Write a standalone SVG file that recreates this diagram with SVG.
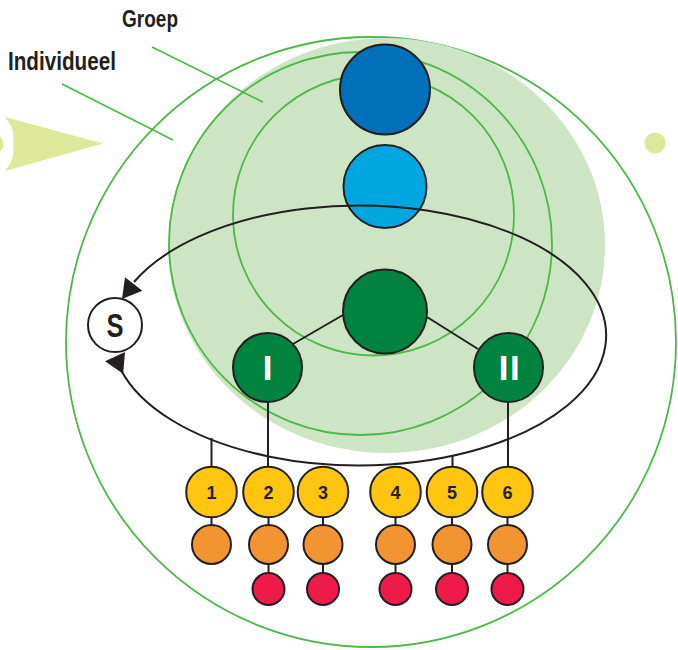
<svg xmlns="http://www.w3.org/2000/svg" xmlns:xlink="http://www.w3.org/1999/xlink" width="678" height="650" viewBox="0 0 678 650">
<style>
.ring{fill:none;stroke:#4cb848;stroke-width:1.8}
.node{stroke:#231f20;stroke-width:2}
.ln{fill:none;stroke:#231f20;stroke-width:2}
.gl{fill:none;stroke:#4cb848;stroke-width:1.6}
.lime{fill:#dde89b}
.yel{fill:#ffc50f}
.ora{fill:#f39433}
.red{fill:#ed1a4a}
.lbl{font-family:"Liberation Sans",Arial,sans-serif;font-weight:bold;fill:#231f20}
.num{font-family:"Liberation Sans",Arial,sans-serif;font-weight:bold;font-size:18px;fill:#231f20;text-anchor:middle}
.wt{font-family:"Liberation Sans",Arial,sans-serif;font-weight:bold;font-size:35px;fill:#fff;text-anchor:middle}
</style>
<defs>
<path id="ah" d="M0,0 L-19,-11 L-19,11 Z" fill="#231f20"/>
</defs>
<g id="background">
<circle cx="371" cy="342" r="305" fill="#fff" stroke="#4cb848" stroke-width="1.8"/>
<ellipse cx="386.5" cy="245.5" rx="218.5" ry="207.5" fill="#cde5c4"/>
<circle class="ring" cx="360.5" cy="243.5" r="191.5"/>
<circle class="ring" cx="373.5" cy="215" r="140.5"/>
<circle class="lime" cx="-6" cy="144" r="9.5"/>
<path class="lime" d="M5,117 L103,143.5 L5,171 Q14,160 13.5,150 L13.5,137 Q14,128 5,117 Z"/>
<circle class="lime" cx="655" cy="143" r="10.5"/>
</g>
<g id="labels">
<line class="gl" x1="152" y1="47" x2="263" y2="102"/>
<line class="gl" x1="62" y1="84" x2="173" y2="140"/>
<text class="lbl" x="122" y="27" font-size="23" textLength="56" lengthAdjust="spacingAndGlyphs">Groep</text>
<text class="lbl" x="8" y="70" font-size="25.5" textLength="108" lengthAdjust="spacingAndGlyphs">Individueel</text>
</g>
<g id="node-darkblue"><circle class="node" cx="385" cy="89.5" r="45" fill="#0070b8"/></g>
<g id="node-lightblue"><circle class="node" cx="385" cy="186.5" r="41.5" fill="#00a6e0"/></g>
<g id="node-center"><circle class="node" cx="385" cy="311.5" r="42" fill="#00833e"/></g>
<g id="node-I"><circle class="node" cx="267.5" cy="367.5" r="34.5" fill="#00833e"/><text class="wt" x="267.5" y="380">I</text></g>
<g id="node-II"><circle class="node" cx="508.5" cy="367.5" r="34.5" fill="#00833e"/><text class="wt" x="510" y="380" letter-spacing="1.5">II</text></g>
<g id="node-S"><circle class="node" cx="115" cy="325" r="27" fill="#fff"/><text class="lbl" x="115" y="337" font-size="33" text-anchor="middle" textLength="17" lengthAdjust="spacingAndGlyphs">S</text></g>
<g id="connectors">
<path class="ln" d="M121,370 A247,130 0 1 0 134,282"/>
<use xlink:href="#ah" transform="translate(122,299) rotate(128)"/>
<use xlink:href="#ah" transform="translate(125,352) rotate(-55)"/>
<line class="ln" x1="343" y1="315" x2="293" y2="344"/>
<line class="ln" x1="427" y1="317" x2="478" y2="349"/>
<line class="ln" x1="211.5" y1="438" x2="211.5" y2="467"/>
<line class="ln" x1="268" y1="402" x2="268" y2="467"/>
<line class="ln" x1="452.5" y1="455" x2="452.5" y2="467"/>
<line class="ln" x1="508" y1="402" x2="508" y2="467"/>
<line class="ln" x1="211.5" y1="517" x2="211.5" y2="525"/>
<line class="ln" x1="268.5" y1="517" x2="268.5" y2="525"/>
<line class="ln" x1="323" y1="517" x2="323" y2="525"/>
<line class="ln" x1="395.5" y1="517" x2="395.5" y2="525"/>
<line class="ln" x1="452" y1="517" x2="452" y2="525"/>
<line class="ln" x1="507.5" y1="517" x2="507.5" y2="525"/>
<line class="ln" x1="268.5" y1="564" x2="268.5" y2="573"/>
<line class="ln" x1="323" y1="564" x2="323" y2="573"/>
<line class="ln" x1="395.5" y1="564" x2="395.5" y2="573"/>
<line class="ln" x1="452" y1="564" x2="452" y2="573"/>
<line class="ln" x1="507.5" y1="564" x2="507.5" y2="573"/>
</g>
<g id="node-1"><circle class="node yel" cx="211.5" cy="492" r="25.3"/><text class="num" x="211.5" y="498.5">1</text><circle class="node ora" cx="211.5" cy="544.5" r="19.5"/></g>
<g id="node-2"><circle class="node yel" cx="268.5" cy="492" r="25.3"/><text class="num" x="268.5" y="498.5">2</text><circle class="node ora" cx="268.5" cy="544.5" r="19.5"/><circle class="node red" cx="268.5" cy="589" r="16"/></g>
<g id="node-3"><circle class="node yel" cx="323" cy="492" r="25.3"/><text class="num" x="323" y="498.5">3</text><circle class="node ora" cx="323" cy="544.5" r="19.5"/><circle class="node red" cx="323" cy="589" r="16"/></g>
<g id="node-4"><circle class="node yel" cx="395.5" cy="492" r="25.3"/><text class="num" x="395.5" y="498.5">4</text><circle class="node ora" cx="395.5" cy="544.5" r="19.5"/><circle class="node red" cx="395.5" cy="589" r="16"/></g>
<g id="node-5"><circle class="node yel" cx="452" cy="492" r="25.3"/><text class="num" x="452" y="498.5">5</text><circle class="node ora" cx="452" cy="544.5" r="19.5"/><circle class="node red" cx="452" cy="589" r="16"/></g>
<g id="node-6"><circle class="node yel" cx="507.5" cy="492" r="25.3"/><text class="num" x="507.5" y="498.5">6</text><circle class="node ora" cx="507.5" cy="544.5" r="19.5"/><circle class="node red" cx="507.5" cy="589" r="16"/></g>
</svg>
